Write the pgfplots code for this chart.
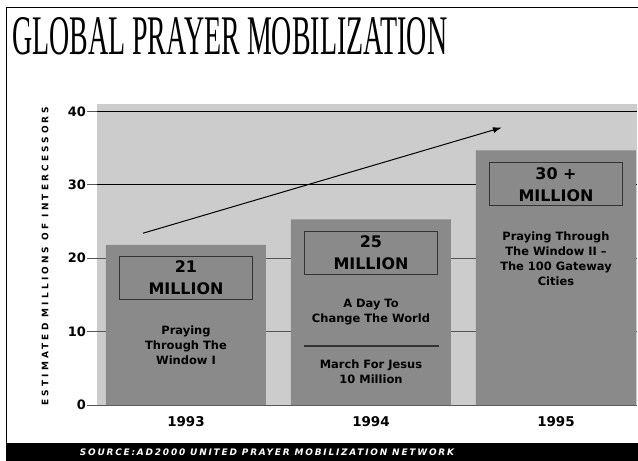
\documentclass[border=0pt]{standalone}
\usepackage{fontspec}
\setmainfont{DejaVu Sans}
\newfontfamily\titlefont{Liberation Serif}
\newfontfamily\ylabfont{DejaVu Sans}[LetterSpace=35]
\newfontfamily\srcfont{DejaVu Sans}[LetterSpace=20]
\usepackage{pgfplots}
\pgfplotsset{compat=1.18}
\usetikzlibrary{arrows.meta}
\definecolor{bgc}{HTML}{CCCCCC}
\definecolor{barc}{HTML}{8A8A8A}
\definecolor{boxc}{HTML}{333333}
\definecolor{gridg}{HTML}{555555}
\newcommand\boxfont{\fontsize{16}{22}\selectfont\bfseries}
\newcommand\subfont{\fontsize{11.5}{15}\selectfont\bfseries}
\begin{document}
\begin{tikzpicture}
\useasboundingbox (0bp,0bp) rectangle (638bp,461bp);
\draw[line width=1bp] (6bp,0bp) -- (6bp,453bp) -- (638bp,453bp);
\fill[black] (6bp,0bp) rectangle (638bp,18bp);
\node[anchor=base west, inner sep=0pt] at (12bp,406bp) {\resizebox{435bp}{37bp}{\titlefont GLOBAL PRAYER MOBILIZATION}};
\node[rotate=90, inner sep=0pt] at (45bp,205bp) {\ylabfont\fontsize{9}{10}\selectfont\bfseries ESTIMATED MILLIONS OF INTERCESSORS};
\node[inner sep=0pt, text=white] at (267bp,9bp) {\srcfont\fontsize{9}{11}\selectfont\bfseries\itshape SOURCE:AD2000 UNITED PRAYER MOBILIZATION NETWORK};
\begin{axis}[
  at={(97bp,56bp)}, anchor=south west,
  scale only axis, width=540bp, height=301bp,
  xmin=-0.481, xmax=2.438, ymin=0, ymax=41,
  enlargelimits=false, clip=false,
  axis x line=bottom, axis y line=left, axis line style={draw=none},
  axis background/.style={fill=bgc},
  xtick={0,1,2}, xticklabels={1993,1994,1995},
  x tick style={draw=none},
  xticklabel style={font=\fontsize{13.5}{14}\selectfont\bfseries, yshift=2bp},
  ytick={0,10,20},
  extra y ticks={30,40},
  extra y tick style={grid style={black, line width=1bp}, tick style={black, line width=1bp}},
  ymajorgrids, grid style={gridg, line width=1bp},
  y tick style={gridg, line width=1bp},
  tick align=outside, major tick length=10bp,
  yticklabel style={font=\fontsize{13}{13}\selectfont\bfseries, inner sep=1bp},
  /pgf/number format/assume math mode=true,
]
\addplot[ybar, bar width=160bp, fill=barc, draw=none] coordinates {(0,21.8) (1,25.3) (2,34.7)};
\draw[-{Latex[length=9bp,width=6bp]}, line width=1bp] (axis cs:-0.232,23.4) -- (axis cs:1.708,37.8);
\node[draw=boxc, line width=1.2bp, minimum width=133bp, minimum height=43bp, inner sep=0pt, align=center, font=\boxfont] at (axis cs:0,17.35) {21\\MILLION};
\node[align=center, font=\subfont, inner sep=0pt] at (axis cs:0,8.16) {Praying\\Through The\\Window I};
\node[draw=boxc, line width=1.2bp, minimum width=133bp, minimum height=43bp, inner sep=0pt, align=center, font=\boxfont] at (axis cs:1,20.75) {25\\MILLION};
\node[align=center, font=\subfont, inner sep=0pt] at (axis cs:1,12.6) {A Day To\\Change The World};
\draw[boxc, line width=1.2bp] (axis cs:0.638,8.03) -- (axis cs:1.368,8.03);
\node[align=center, font=\subfont, inner sep=0pt] at (axis cs:1,4.5) {March For Jesus\\10 Million};
\node[draw=boxc, line width=1.2bp, minimum width=133bp, minimum height=43bp, inner sep=0pt, align=center, font=\boxfont] at (axis cs:2,30.07) {30 +\\MILLION};
\node[align=center, font=\subfont, inner sep=0pt] at (axis cs:2,19.9) {Praying Through\\The Window II –\\The 100 Gateway\\Cities};
\end{axis}
\end{tikzpicture}
\end{document}
